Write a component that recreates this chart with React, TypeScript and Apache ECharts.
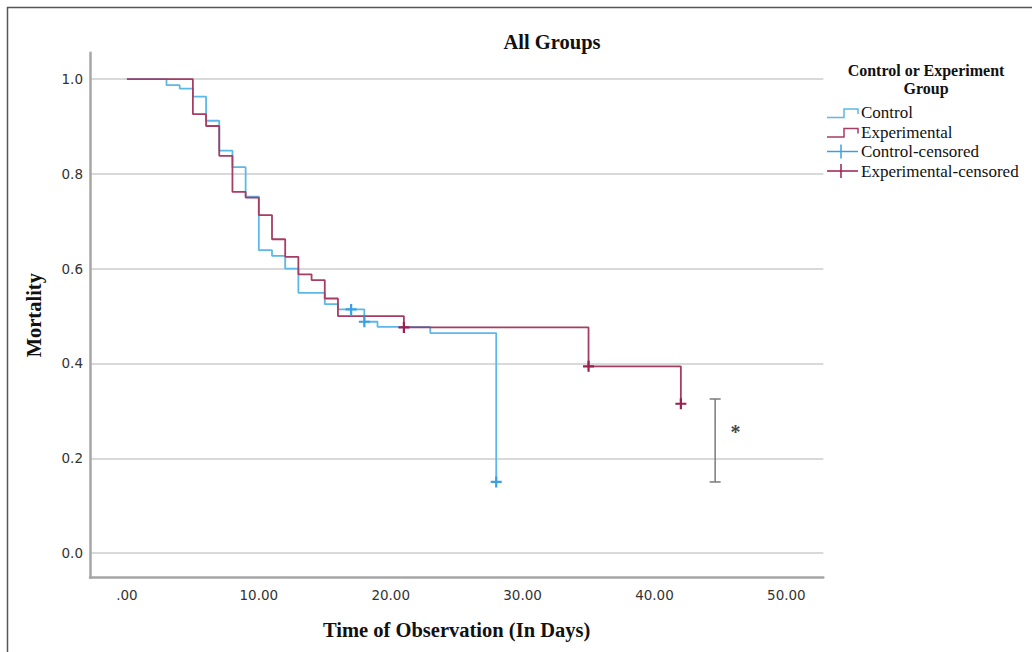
import React, { useEffect, useRef } from "react";
import * as echarts from "echarts";

// ---- data ----
const controlDays = [0, 3, 4, 5, 6, 7, 8, 9, 10, 11, 12, 13, 15, 16, 18, 19, 23, 28];
const controlValues = [1.0, 0.987, 0.98, 0.963, 0.912, 0.849, 0.814, 0.752, 0.639, 0.627, 0.6, 0.549, 0.525, 0.514, 0.488, 0.477, 0.464, 0.15];
const experimentalDays = [0, 5, 6, 7, 8, 9, 10, 11, 12, 13, 14, 15, 16, 21, 35, 42];
const experimentalValues = [1.0, 0.926, 0.901, 0.838, 0.762, 0.75, 0.713, 0.662, 0.625, 0.588, 0.576, 0.537, 0.5, 0.476, 0.394, 0.315];
const controlCensoredDays = [17, 18, 28];
const controlCensoredValues = [0.514, 0.488, 0.15];
const experimentalCensoredDays = [21, 35, 42];
const experimentalCensoredValues = [0.476, 0.394, 0.315];
const bracket = [44.6, 0.15, 0.325]; // x, low, high
const asterisk = [46.15, 0.255];
const xTicks = [0, 10, 20, 30, 40, 50];
const yTicks = [0, 0.2, 0.4, 0.6, 0.8, 1.0];
const legendNames = ["Control", "Experimental", "Control-censored", "Experimental-censored"];

const BLUE = "#5cb8e8";
const BLUE_MARK = "#3aa0e2";
const RED = "#a63d63";
const RED_MARK = "#9c1f4e";
const SERIF = "'Liberation Serif', 'Times New Roman', serif";
const SANS = "'DejaVu Sans', sans-serif";
const PLUS = "path://M4,0h2v4h4v2h-4v4h-2v-4h-4v-2h4z";

const zip = (a: number[], b: number[]) => a.map((v, i) => [v, b[i]]);

export default function App() {
  const ref = useRef<HTMLDivElement>(null);
  useEffect(() => {
    document.body.style.margin = "0";
    const chart = echarts.init(ref.current!, null, { renderer: "svg" });
    const legendTop = [112.5, 132, 151.5, 171];
    const lx = 827;
    const graphics: any[] = [
      { type: "line", shape: { x1: 7.5, y1: 7, x2: 7.5, y2: 660 }, style: { stroke: "#555", lineWidth: 1.5 } },
      { type: "line", shape: { x1: 7, y1: 7.5, x2: 1040, y2: 7.5 }, style: { stroke: "#555", lineWidth: 1.5 } },
      {
        type: "text", x: 926, y: 70.5,
        style: { text: "Control or Experiment", font: `bold 16px ${SERIF}`, fill: "#111", align: "center", verticalAlign: "middle" },
      },
      {
        type: "text", x: 926, y: 88,
        style: { text: "Group", font: `bold 16px ${SERIF}`, fill: "#111", align: "center", verticalAlign: "middle" },
      },
    ];
    const iconColors = [BLUE, RED, BLUE_MARK, RED_MARK];
    legendNames.forEach((name, i) => {
      const y = legendTop[i];
      if (i < 2) {
        graphics.push({
          type: "polyline",
          shape: { points: [[lx, y + 5], [lx + 17, y + 5], [lx + 17, y - 3.5], [lx + 31, y - 3.5], [lx + 31, y + 1.5]] },
          style: { stroke: iconColors[i], lineWidth: 1.5, fill: null },
        });
      } else {
        graphics.push({ type: "line", shape: { x1: lx, y1: y, x2: lx + 31, y2: y }, style: { stroke: iconColors[i], lineWidth: 1.5 } });
        graphics.push({ type: "line", shape: { x1: lx + 14, y1: y - 7, x2: lx + 14, y2: y + 7 }, style: { stroke: iconColors[i], lineWidth: 1.5 } });
      }
      graphics.push({
        type: "text", x: 861, y: y,
        style: { text: name, font: `17px ${SERIF}`, fill: "#111", align: "left", verticalAlign: "middle" },
      });
    });

    chart.setOption({
      animation: false,
      backgroundColor: "#fff",
      title: {
        text: "All Groups",
        left: 547,
        top: 26,
        textAlign: "center",
        textStyle: { fontFamily: SERIF, fontWeight: "bold", fontSize: 20.5, color: "#111" },
      },
      grid: { left: 90, right: 208.7, top: 52.7, bottom: 74.3, containLabel: false },
      xAxis: {
        type: "value",
        min: -2.8,
        max: 52.8,
        name: "Time of Observation (In Days)",
        nameLocation: "middle",
        nameGap: 42,
        nameTextStyle: { fontFamily: SERIF, fontWeight: "bold", fontSize: 20.5, color: "#111" },
        axisLine: { show: true, onZero: false, lineStyle: { color: "#a6a6a6", width: 2.5 } },
        axisTick: { show: false, customValues: xTicks },
        splitLine: { show: false },
        axisLabel: {
          customValues: xTicks,
          margin: 10,
          color: "#333",
          fontFamily: SANS,
          fontSize: 13.5,
          formatter: (v: number) => (v === 0 ? ".00" : v.toFixed(2)),
        },
      },
      yAxis: {
        type: "value",
        min: -0.052,
        max: 1.0556,
        name: "Mortality",
        nameLocation: "middle",
        nameGap: 46,
        nameTextStyle: { fontFamily: SERIF, fontWeight: "bold", fontSize: 20.5, color: "#111" },
        axisLine: { show: true, onZero: false, lineStyle: { color: "#a6a6a6", width: 2.5 } },
        axisTick: { show: false, customValues: yTicks },
        splitLine: { show: true, customValues: yTicks, lineStyle: { color: "#cdcdcd", width: 1.5 } },
        axisLabel: {
          customValues: yTicks,
          margin: 7,
          color: "#333",
          fontFamily: SANS,
          fontSize: 13.5,
          formatter: (v: number) => v.toFixed(1),
        },
      },
      graphic: graphics,
      series: [
        {
          name: "Control",
          type: "line",
          step: "end",
          showSymbol: false,
          data: zip(controlDays, controlValues),
          lineStyle: { color: BLUE, width: 1.8 },
          itemStyle: { color: BLUE },
          z: 2,
        },
        {
          name: "Experimental",
          type: "line",
          step: "end",
          showSymbol: false,
          data: zip(experimentalDays, experimentalValues),
          lineStyle: { color: RED, width: 1.8 },
          itemStyle: { color: RED },
          z: 3,
        },
        {
          name: "Control-censored",
          type: "scatter",
          symbol: PLUS,
          symbolSize: 11,
          data: zip(controlCensoredDays, controlCensoredValues),
          itemStyle: { color: BLUE_MARK, opacity: 1 },
          z: 4,
        },
        {
          name: "Experimental-censored",
          type: "scatter",
          symbol: PLUS,
          symbolSize: 11,
          data: zip(experimentalCensoredDays, experimentalCensoredValues),
          itemStyle: { color: RED_MARK, opacity: 1 },
          z: 4,
        },
        {
          name: "bracket",
          type: "custom",
          data: [bracket],
          renderItem: (_p: any, api: any) => {
            const top = api.coord([api.value(0), api.value(2)]);
            const bot = api.coord([api.value(0), api.value(1)]);
            const st = { stroke: "#7a7a7a", lineWidth: 1.5 };
            return {
              type: "group",
              children: [
                { type: "line", shape: { x1: top[0], y1: top[1], x2: bot[0], y2: bot[1] }, style: st },
                { type: "line", shape: { x1: top[0] - 5.5, y1: top[1], x2: top[0] + 5.5, y2: top[1] }, style: st },
                { type: "line", shape: { x1: bot[0] - 5.5, y1: bot[1], x2: bot[0] + 5.5, y2: bot[1] }, style: st },
              ],
            };
          },
          z: 2,
        },
        {
          name: "significance",
          type: "scatter",
          symbolSize: 1,
          data: [asterisk],
          itemStyle: { color: "rgba(0,0,0,0)" },
          label: {
            show: true,
            position: "inside",
            formatter: "*",
            fontFamily: SERIF,
            fontWeight: "bold",
            fontSize: 20,
            color: "#111",
          },
          z: 4,
        },
      ],
    });
    return () => chart.dispose();
  }, []);
  return <div ref={ref} style={{ position: "fixed", left: 0, top: 0, width: 1032, height: 652 }} />;
}
